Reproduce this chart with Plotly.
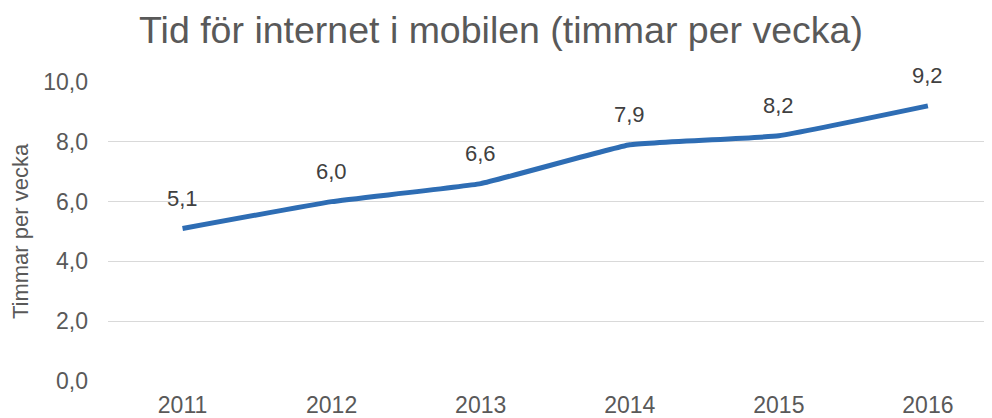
import plotly.graph_objects as go

years = ["2011", "2012", "2013", "2014", "2015", "2016"]
hours = [5.1, 6.0, 6.6, 7.9, 8.2, 9.2]
y_ticks = [0, 2, 4, 6, 8, 10]
y_tick_labels = ["0,0", "2,0", "4,0", "6,0", "8,0", "10,0"]

FONT = "Liberation Sans, Arial, sans-serif"

fig = go.Figure()
fig.add_trace(go.Scatter(
    x=years, y=hours, mode="lines",
    line=dict(color="#2E6DB4", width=5, shape="spline", smoothing=0.3),
    cliponaxis=False, hoverinfo="skip",
))

for i, v in enumerate(hours):
    fig.add_annotation(
        x=i, y=v, text=f"{v:.1f}".replace(".", ","),
        showarrow=False, yshift=30, yanchor="middle",
        font=dict(family=FONT, size=22, color="#404040"),
    )

fig.update_layout(
    width=984, height=410,
    margin=dict(l=100, r=0, t=74, b=37),
    paper_bgcolor="white", plot_bgcolor="white",
    showlegend=False,
    title=dict(
        text="Tid för internet i mobilen (timmar per vecka)",
        x=493 / 984, xanchor="center", xref="container",
        y=1 - 22 / 410, yanchor="middle", yref="container",
        font=dict(family=FONT, size=37.5, color="#595959"),
    ),
    xaxis=dict(
        type="category", range=[-0.5, 5.43], automargin=False,
        showgrid=False, zeroline=False, showline=False,
        ticks="", ticklabelstandoff=8,
        tickfont=dict(family=FONT, size=23, color="#595959"),
    ),
    yaxis=dict(
        range=[0, 10], tickvals=y_ticks, ticktext=y_tick_labels,
        automargin=False,
        showgrid=True, gridcolor="#D9D9D9", gridwidth=1.3,
        zeroline=False, showline=False, ticks="",
        ticklabelstandoff=19,
        tickfont=dict(family=FONT, size=23, color="#595959"),
        title=dict(text="Timmar per vecka", standoff=11,
                   font=dict(family=FONT, size=22, color="#595959")),
    ),
)

fig.write_html("out.html")
